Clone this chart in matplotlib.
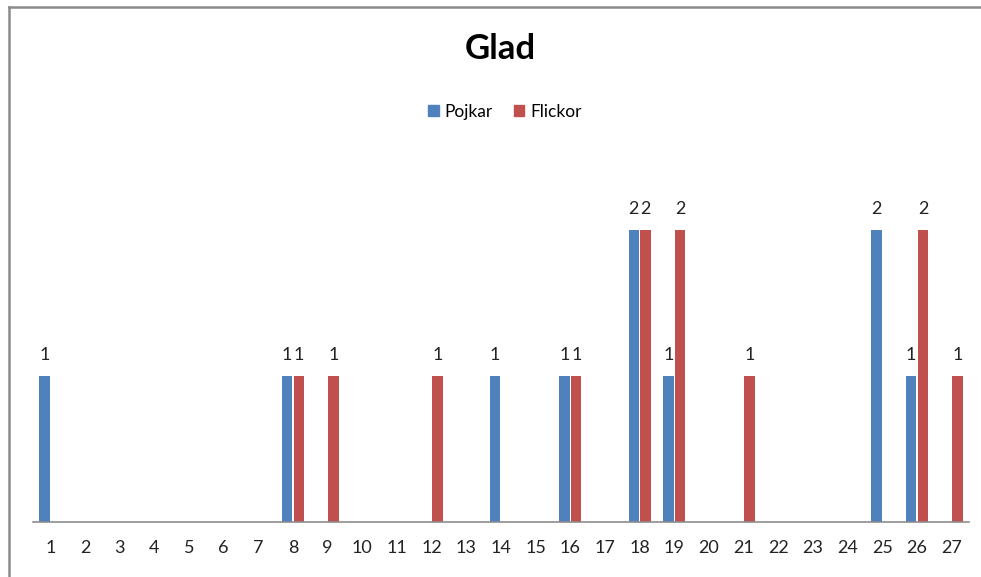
import numpy as np
import matplotlib
matplotlib.use("Agg")
import matplotlib.pyplot as plt
from matplotlib.lines import Line2D
from matplotlib.patches import Patch

categories = [str(i) for i in range(1, 28)]
pojkar = [1, 0, 0, 0, 0, 0, 0, 1, 0, 0, 0, 0, 0, 1, 0, 1, 0, 2, 1, 0, 0, 0, 0, 0, 2, 1, 0]
flickor = [0, 0, 0, 0, 0, 0, 0, 1, 1, 0, 0, 1, 0, 0, 0, 1, 0, 2, 2, 0, 1, 0, 0, 0, 0, 2, 1]

BLUE = "#4F81BD"
RED = "#C0504D"

plt.rcParams["font.family"] = ["Lato", "DejaVu Sans"]

W, H = 981, 577
fig = plt.figure(figsize=(W / 100, H / 100), dpi=100)
ax = fig.add_axes([33 / W, 55 / H, (969 - 33) / W, (522 - 157) / H])

x = np.arange(len(categories))
bw = 0.30
off = 0.17
for vals, col, dx in [(pojkar, BLUE, -off), (flickor, RED, off)]:
    ax.bar(x + dx, vals, width=bw, color=col, zorder=2)
    for xi, v in zip(x, vals):
        if v:
            ax.text(xi + dx, v + 0.09, str(v), ha="center", va="bottom",
                    fontsize=13, color="#222222")

ax.set_xlim(-0.5, len(categories) - 0.5)
ax.set_ylim(0, 2.5)
ax.set_xticks(x)
ax.set_xticklabels(categories, fontsize=13, color="#222222")
ax.tick_params(axis="x", length=0, pad=13)
ax.set_yticks([])
for s in ["left", "right", "top"]:
    ax.spines[s].set_visible(False)
ax.spines["bottom"].set_color("#8c8c8c")
ax.spines["bottom"].set_linewidth(1.2)

fig.text(500 / W, 1 - 49 / H, "Glad", ha="center", va="center",
         fontsize=25, fontweight="bold", color="black")

handles = [Patch(color=BLUE, label="Pojkar"), Patch(color=RED, label="Flickor")]
fig.legend(handles=handles, loc="center", bbox_to_anchor=(505 / W, 1 - 112 / H),
           ncol=2, frameon=False, fontsize=12.5, handlelength=0.6, handleheight=0.6,
           handletextpad=0.35, columnspacing=1.2)

# chart frame (left and top edges visible in the crop)
fig.add_artist(Line2D([8.5 / W, 8.5 / W], [0, 1 - 6.5 / H], color="#8c8c8c", lw=1.8))
fig.add_artist(Line2D([8.5 / W, 1], [1 - 6.5 / H, 1 - 6.5 / H], color="#8c8c8c", lw=1.8))

fig.savefig("out.png", dpi=100)
